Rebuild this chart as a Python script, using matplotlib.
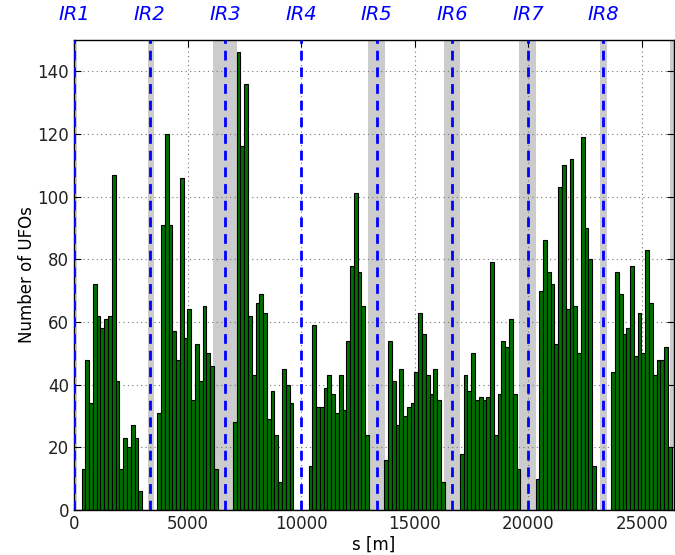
import matplotlib
matplotlib.use('agg')
import numpy as np
import matplotlib.pyplot as plt

CIRC = 26659.
N_BINS = 160

# UFO counts per 166.6 m bin, one group of 16 bins per arc
arc_counts = [
    [13, 48, 34, 72, 62, 58, 61, 62, 107, 41, 13, 23, 20, 27, 23, 6],
    [31, 91, 120, 91, 57, 48, 106, 55, 64, 35, 53, 41, 65, 50, 46, 13],
    [28, 146, 116, 136, 62, 43, 66, 69, 63, 29, 38, 24, 9, 45, 40, 34],
    [14, 59, 33, 33, 39, 43, 37, 31, 43, 32, 54, 78, 101, 76, 65, 24],
    [16, 54, 41, 27, 45, 30, 33, 34, 44, 63, 56, 43, 37, 45, 35, 9],
    [18, 43, 38, 50, 35, 36, 35, 36, 79, 24, 37, 54, 52, 61, 37, 13],
    [10, 70, 86, 76, 72, 53, 103, 110, 64, 112, 65, 50, 119, 90, 80, 14],
    [44, 76, 69, 56, 58, 78, 49, 63, 50, 83, 66, 43, 48, 48, 52, 20],
]
arc_first_bin = [2, 22, 42, 62, 82, 102, 122, 142]

ir_names = ['IR1', 'IR2', 'IR3', 'IR4', 'IR5', 'IR6', 'IR7', 'IR8']
ir_pos = [0., 3332., 6664., 9997., 13329., 16661., 19994., 23315.]

# shaded regions around the IPs (start, end) in m
shade = [(-150, 120), (26230, 26700), (3250, 3520), (6120, 7180),
         (12950, 13700), (16300, 17000), (19600, 20350), (23170, 23480)]

counts = np.zeros(N_BINS)
for first, c in zip(arc_first_bin, arc_counts):
    counts[first:first + len(c)] = c
edges = np.linspace(0, CIRC, N_BINS + 1)

fig = plt.figure(figsize=(6.75, 5.55), dpi=100)
ax = fig.add_axes([0.1096, 0.0811, 0.889, 0.847])

for a, b in shade:
    ax.axvspan(a, b, color='0.8', lw=0, zorder=0)

ax.grid(True, color='0.45', linestyle=(0, (1, 3)), linewidth=0.8, zorder=1)
ax.set_axisbelow(True)

ax.bar(edges[:-1], counts, width=np.diff(edges), align='edge',
       color='#007000', edgecolor='k', linewidth=0.8, zorder=2)

for name, s in zip(ir_names, ir_pos):
    ax.axvline(s, color='b', linestyle=(0, (3.5, 2.5)), linewidth=2, zorder=3)
    ax.text(s, 1.055, name, transform=ax.get_xaxis_transform(), ha='center',
            va='center', color='b', style='italic', fontsize=14)

ax.set_xlim(0, 26430)
ax.set_ylim(0, 150)
ax.set_xticks([0, 5000, 10000, 15000, 20000, 25000])
ax.set_yticks(range(0, 141, 20))
ax.tick_params(direction='in', labelsize=12, length=5, top=True, right=True,
               labelcolor='#222222')
ax.set_xlabel('s [m]', fontsize=12, labelpad=2)
ax.set_ylabel('Number of UFOs', fontsize=12, labelpad=1)
for sp in ax.spines.values():
    sp.set_linewidth(1)

fig.savefig('out.png', dpi=100)
